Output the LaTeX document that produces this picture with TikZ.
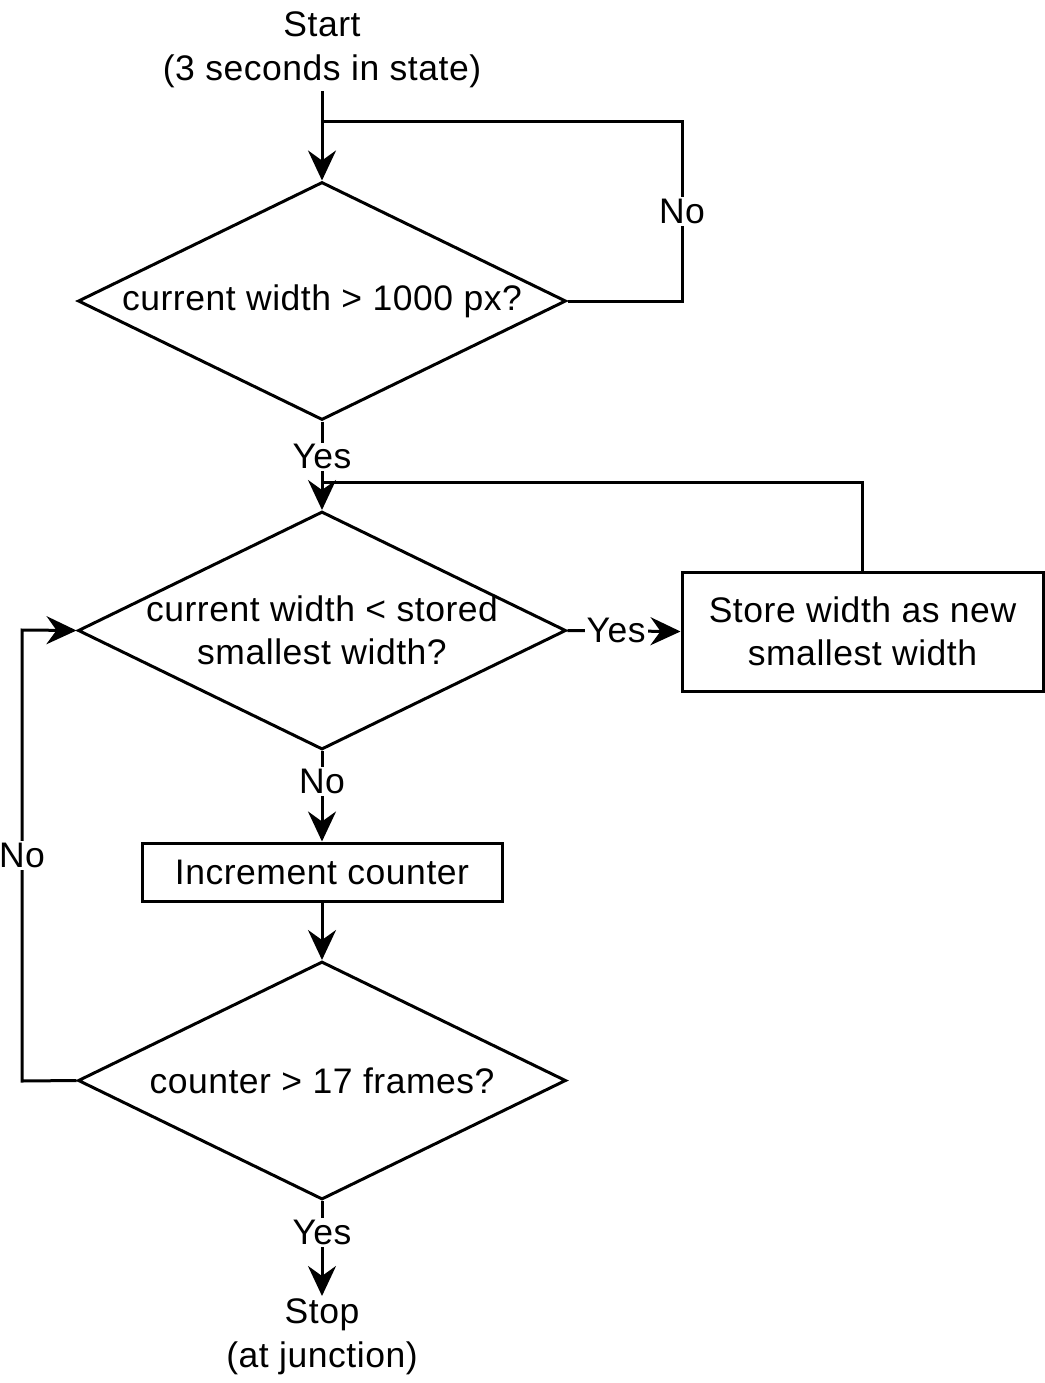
\documentclass[tikz,border=0pt]{standalone}
\usepackage{fontspec}
\setmainfont[LetterSpace=1.5]{Liberation Sans}
\usetikzlibrary{shapes.geometric,arrows.meta}
\begin{document}
\begin{tikzpicture}[x=1pt,y=-1pt,
  every node/.style={font=\fontsize{35.5}{43.5}\selectfont},
  ln/.style={line width=3pt},
  arr/.style={-{Stealth[length=30pt,width=28pt,inset=10pt]}},
  dia/.style={draw,diamond,line width=3pt,minimum width=488pt,minimum height=238pt,inner sep=0pt},
  box/.style={draw,rectangle,line width=3pt,inner sep=0pt},
  txt/.style={align=center,inner sep=3pt},
  lbl/.style={fill=white,inner sep=2pt}]
\useasboundingbox (0,0) rectangle (1044,1383);
% nodes
\node[txt] (start) at (322,50) {Start\\(3 seconds in state)};
\node[dia] (d1) at (322,301) {};
\node at (d1) {current width > 1000 px?};
\node[dia] (d2) at (322,630.5) {};
\node[align=center] at (d2) {current width < stored\\smallest width?};
\node[box,minimum width=361pt,minimum height=119pt,align=center] (store) at (862.5,631.5) {Store width as new\\smallest width};
\node[box,minimum width=360pt,minimum height=58pt] (inc) at (322,872) {Increment counter};
\node[dia] (d3) at (322,1080.5) {};
\node at (d3) {counter > 17 frames?};
\node[txt] (stop) at (322,1337) {Stop\\(at junction)};
% coordinates
\coordinate (c1) at (682,122);
\coordinate (j1) at (322,122);
\coordinate (j2) at (322,482);
\coordinate (c3) at (22,1081);
\coordinate (c4) at (22,630);
% connectors
\draw[ln,arr] (start.south) -- (d1.north);
\draw[ln] (d1.east) -| node[lbl,pos=0.75] {No} (c1) -- (j1);
\draw[ln,arr] (d1.south) -- node[lbl,pos=0.4] {Yes} (d2.north);
\draw[ln] (store.north) |- (j2);
\draw[ln,arr] (d2.east) -- node[lbl,pos=0.43] {Yes} (store.west);
\draw[ln,arr] (d2.south) -- node[lbl,pos=0.34] {No} (inc.north);
\draw[ln,arr] (inc.south) -- (d3.north);
\draw[ln,arr] (d3.west) -- (c3) -- node[lbl] {No} (c4) -- (d2.west);
\draw[ln,arr] (d3.south) -- node[lbl,pos=0.33] {Yes} (stop.north);
\end{tikzpicture}
\end{document}
